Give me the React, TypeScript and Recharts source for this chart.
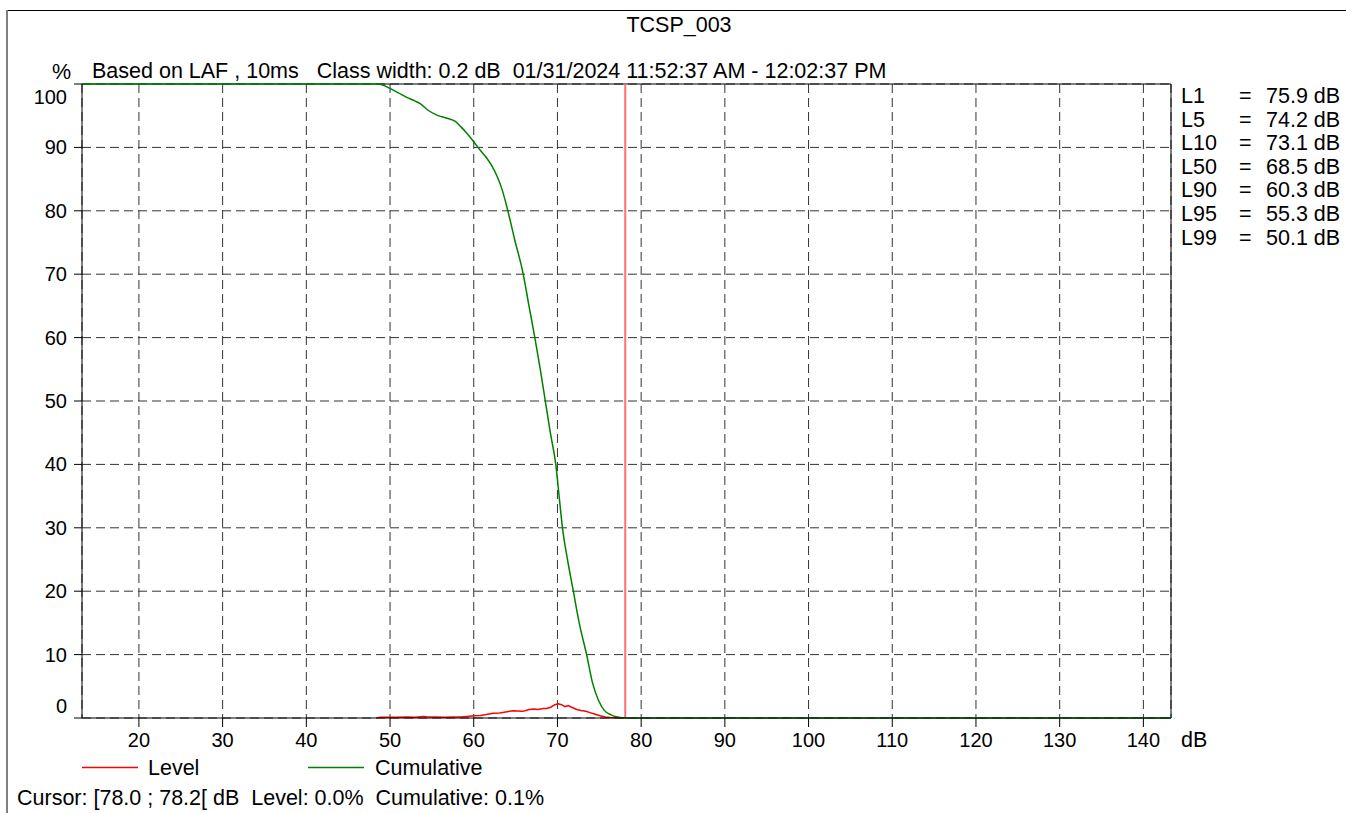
import React from 'react';
import { LineChart, Line, XAxis, YAxis, CartesianGrid, ReferenceLine } from 'recharts';

const FONT = '"Liberation Sans", Arial, sans-serif';
const TXT = 21.5;

// x axis (dB) and y axis (%) ticks
const dbTicks = [20, 30, 40, 50, 60, 70, 80, 90, 100, 110, 120, 130, 140];
const pctTicks = [0, 10, 20, 30, 40, 50, 60, 70, 80, 90, 100];

// cumulative curve
const cumDb = [13.2, 48.6, 49.2, 50, 51, 52, 53, 53.6, 54.5, 55.6, 56.8, 57.8, 58.5, 59.2, 60, 60.8, 61.5, 62.2, 62.8, 63.4, 64, 64.9, 65.9, 66.6, 67.3, 67.95, 68.55, 69.15, 69.8, 70.2, 70.6, 71.2, 71.9, 72.6, 73.5, 74.2, 74.9, 75.6, 76.4, 77.2, 78.1, 143.3];
const cumPct = [100, 100, 99.8, 99.3, 98.6, 97.9, 97.3, 96.9, 95.9, 95.1, 94.6, 94.1, 93.2, 92.2, 90.9, 89.5, 88.4, 87.0, 85.4, 83.3, 80.4, 75.4, 70.1, 65, 60, 55, 50, 45, 40, 35, 30, 25, 20, 15, 9.9, 5.5, 2.8, 1.2, 0.5, 0.15, 0, 0];

// level (per class) curve
const levelDb = [48.4, 48.8, 50, 51, 52, 53, 54, 54.5, 55.5, 56.5, 57.5, 58.4, 59.2, 60, 60.8, 61.5, 62.3, 63.1, 63.8, 64.7, 65.2, 65.9, 66.5, 67.1, 67.7, 68.3, 68.7, 69.2, 69.7, 70.1, 70.5, 70.9, 71.3, 71.7, 72.3, 72.8, 73.4, 73.9, 74.5, 75.1, 75.7, 76.3, 77, 78];
const levelPct = [0, 0.1, 0.12, 0.1, 0.15, 0.12, 0.25, 0.15, 0.15, 0.12, 0.15, 0.15, 0.25, 0.35, 0.4, 0.55, 0.75, 0.8, 0.95, 1.15, 1.1, 1.05, 1.3, 1.4, 1.35, 1.5, 1.5, 1.7, 2.1, 2.25, 2.1, 1.8, 1.95, 1.7, 1.35, 1.2, 1.05, 0.85, 0.6, 0.35, 0.15, 0.08, 0.03, 0];

const statNames = ['L1', 'L5', 'L10', 'L50', 'L90', 'L95', 'L99'];
const statValues = ['75.9 dB', '74.2 dB', '73.1 dB', '68.5 dB', '60.3 dB', '55.3 dB', '50.1 dB'];

const cursorDb = 78.1;

const cumulative = cumDb.map((x, i) => ({ x, y: cumPct[i] }));
const level = levelDb.map((x, i) => ({ x, y: levelPct[i] }));

const YTick = (props: any) => {
  const { x, y, payload } = props;
  let dy = 0;
  if (payload.value === 100) dy = 13;
  if (payload.value === 0) dy = -12;
  return (
    <text x={x} y={y + dy} textAnchor="end" dominantBaseline="central" fill="#000" fontSize={20} fontFamily={FONT}>
      {payload.value}
    </text>
  );
};

const txt = (left: number, cy: number, s: string, extra: React.CSSProperties = {}) => (
  <div
    style={{
      position: 'absolute',
      left,
      top: cy - 12,
      lineHeight: '24px',
      fontSize: TXT,
      fontFamily: FONT,
      whiteSpace: 'pre',
      color: '#000',
      ...extra,
    }}
  >
    {s}
  </div>
);

export default function App() {
  return (
    <div style={{ position: 'absolute', left: 0, top: 0, width: 1346, height: 813, background: '#fff', overflow: 'hidden' }}>
      {/* frame */}
      <div style={{ position: 'absolute', left: 7, top: 10, width: 1339, height: 1, background: '#000' }} />
      <div style={{ position: 'absolute', left: 6, top: 10, width: 2, height: 803, background: '#808080' }} />

      <div style={{ position: 'absolute', left: 0, top: 0 }}>
        <LineChart width={1346} height={813} margin={{ top: 84, right: 175, bottom: 65, left: 22 }}>
          <CartesianGrid strokeDasharray="9 5" stroke="#333" />
          <XAxis
            type="number"
            dataKey="x"
            domain={[13.2, 143.3]}
            allowDataOverflow
            ticks={dbTicks}
            interval={0}
            height={30}
            tickSize={9}
            tickMargin={6}
            stroke="#000"
            tick={{ fill: '#000', fontSize: 20, fontFamily: FONT }}
          />
          <YAxis
            type="number"
            domain={[0, 100]}
            ticks={pctTicks}
            interval={0}
            width={60}
            tickSize={8}
            tickMargin={7}
            stroke="#000"
            tick={<YTick />}
          />
          <ReferenceLine y={100} stroke="#000" />
          <ReferenceLine x={143.3} stroke="#000" ifOverflow="extendDomain" />
          <ReferenceLine x={cursorDb} stroke="#ff7070" strokeWidth={2} />
          <Line data={level} dataKey="y" type="linear" stroke="#ff0000" strokeWidth={1.5} dot={false} isAnimationActive={false} />
          <Line data={cumulative} dataKey="y" type="monotone" stroke="#008000" strokeWidth={1.5} dot={false} isAnimationActive={false} />
        </LineChart>
      </div>

      {/* titles */}
      <div style={{ position: 'absolute', left: 0, width: 1358, top: 13, lineHeight: '24px', textAlign: 'center', fontSize: TXT, fontFamily: FONT }}>
        TCSP_003
      </div>
      {txt(52, 72, '%')}
      {txt(92, 71, 'Based on LAF , 10ms   Class width: 0.2 dB  01/31/2024 11:52:37 AM - 12:02:37 PM')}

      {/* stats */}
      {statNames.map((n, i) => (
        <React.Fragment key={n}>
          {txt(1181, 96 + i * 23.6, n)}
          {txt(1239, 96 + i * 23.6, '=')}
          {txt(1266, 96 + i * 23.6, statValues[i])}
        </React.Fragment>
      ))}

      {txt(1181, 740, 'dB')}

      {/* legend */}
      <svg style={{ position: 'absolute', left: 0, top: 0 }} width={1346} height={813}>
        <line x1={82} x2={138} y1={767.5} y2={767.5} stroke="#ff0000" strokeWidth={1.5} />
        <line x1={308} x2={364} y1={767.5} y2={767.5} stroke="#008000" strokeWidth={1.5} />
      </svg>
      {txt(148, 768, 'Level')}
      {txt(375, 768, 'Cumulative')}

      {txt(17, 798, 'Cursor: [78.0 ; 78.2[ dB  Level: 0.0%  Cumulative: 0.1%')}
    </div>
  );
}
